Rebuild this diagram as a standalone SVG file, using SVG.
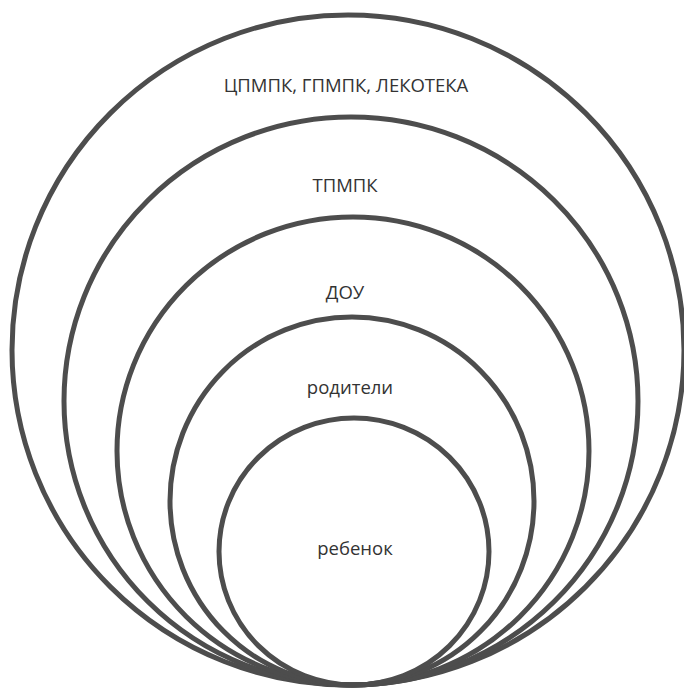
<svg xmlns="http://www.w3.org/2000/svg" width="684" height="690" viewBox="0 0 684 690">
<style>
.ring{fill:none;stroke:#4d4d4d;stroke-width:5}
.lbl{font-family:"Open Sans","Liberation Sans",sans-serif;font-size:18.5px;fill:#333;text-anchor:middle}
</style>
<rect width="684" height="690" fill="#fff"/>
<g id="n1"><ellipse class="ring" cx="348" cy="350" rx="336" ry="335"/><text class="lbl" x="346" y="92">ЦПМПК, ГПМПК, ЛЕКОТЕКА</text></g>
<g id="n2"><ellipse class="ring" cx="351" cy="401" rx="287" ry="284"/><text class="lbl" x="345" y="192">ТПМПК</text></g>
<g id="n3"><ellipse class="ring" cx="353" cy="451" rx="236" ry="234"/><text class="lbl" x="345" y="299">ДОУ</text></g>
<g id="n4"><ellipse class="ring" cx="352" cy="501" rx="182" ry="184"/><text class="lbl" x="350" y="394">родители</text></g>
<g id="n5"><ellipse class="ring" cx="354" cy="551.5" rx="135" ry="133.5"/><text class="lbl" x="355" y="555">ребенок</text></g>
<g id="connectors"/>
</svg>
